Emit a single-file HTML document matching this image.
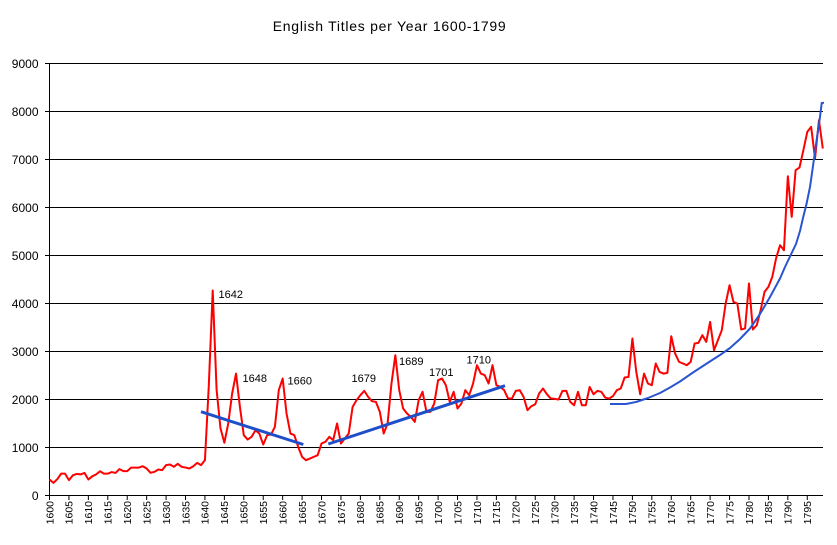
<!DOCTYPE html>
<html><head><meta charset="utf-8"><style>
html,body{margin:0;padding:0;background:#fff;}
svg{display:block;}
text{font-family:"Liberation Sans",Arial,sans-serif;fill:#000;}
</style></head><body>
<svg width="837" height="545" viewBox="0 0 837 545" xmlns="http://www.w3.org/2000/svg">
<rect width="837" height="545" fill="#fff"/>
<text x="272.7" y="31" font-size="14" textLength="233" lengthAdjust="spacing">English Titles per Year 1600-1799</text>
<g stroke="#000" stroke-width="1" fill="none">
<path d="M45 63.5H823M45 111.5H823M45 159.5H823M45 207.5H823M45 255.5H823M45 303.5H823M45 351.5H823M45 399.5H823M45 447.5H823M45 495.5H823"/>
<path d="M49.5 63V500"/>
<path d="M68.93 495V500M88.36 495V500M107.79 495V500M127.22 495V500M146.65 495V500M166.08 495V500M185.51 495V500M204.94 495V500M224.37 495V500M243.8 495V500M263.23 495V500M282.66 495V500M302.09 495V500M321.52 495V500M340.95 495V500M360.38 495V500M379.81 495V500M399.24 495V500M418.67 495V500M438.1 495V500M457.53 495V500M476.96 495V500M496.39 495V500M515.82 495V500M535.25 495V500M554.68 495V500M574.11 495V500M593.54 495V500M612.97 495V500M632.4 495V500M651.83 495V500M671.26 495V500M690.69 495V500M710.12 495V500M729.55 495V500M748.98 495V500M768.41 495V500M787.84 495V500M807.27 495V500"/>
</g>
<g font-size="12" text-anchor="end">
<text x="38.5" y="67.8">9000</text>
<text x="38.5" y="115.8">8000</text>
<text x="38.5" y="163.8">7000</text>
<text x="38.5" y="211.8">6000</text>
<text x="38.5" y="259.8">5000</text>
<text x="38.5" y="307.8">4000</text>
<text x="38.5" y="355.8">3000</text>
<text x="38.5" y="403.8">2000</text>
<text x="38.5" y="451.8">1000</text>
<text x="38.5" y="499.8">0</text>
</g>
<g font-size="10.5" text-anchor="end">
<text transform="translate(53.3,501) rotate(-90)">1600</text>
<text transform="translate(72.73,501) rotate(-90)">1605</text>
<text transform="translate(92.16,501) rotate(-90)">1610</text>
<text transform="translate(111.59,501) rotate(-90)">1615</text>
<text transform="translate(131.02,501) rotate(-90)">1620</text>
<text transform="translate(150.45,501) rotate(-90)">1625</text>
<text transform="translate(169.88,501) rotate(-90)">1630</text>
<text transform="translate(189.31,501) rotate(-90)">1635</text>
<text transform="translate(208.74,501) rotate(-90)">1640</text>
<text transform="translate(228.17,501) rotate(-90)">1645</text>
<text transform="translate(247.6,501) rotate(-90)">1650</text>
<text transform="translate(267.03,501) rotate(-90)">1655</text>
<text transform="translate(286.46,501) rotate(-90)">1660</text>
<text transform="translate(305.89,501) rotate(-90)">1665</text>
<text transform="translate(325.32,501) rotate(-90)">1670</text>
<text transform="translate(344.75,501) rotate(-90)">1675</text>
<text transform="translate(364.18,501) rotate(-90)">1680</text>
<text transform="translate(383.61,501) rotate(-90)">1685</text>
<text transform="translate(403.04,501) rotate(-90)">1690</text>
<text transform="translate(422.47,501) rotate(-90)">1695</text>
<text transform="translate(441.9,501) rotate(-90)">1700</text>
<text transform="translate(461.33,501) rotate(-90)">1705</text>
<text transform="translate(480.76,501) rotate(-90)">1710</text>
<text transform="translate(500.19,501) rotate(-90)">1715</text>
<text transform="translate(519.62,501) rotate(-90)">1720</text>
<text transform="translate(539.05,501) rotate(-90)">1725</text>
<text transform="translate(558.48,501) rotate(-90)">1730</text>
<text transform="translate(577.91,501) rotate(-90)">1735</text>
<text transform="translate(597.34,501) rotate(-90)">1740</text>
<text transform="translate(616.77,501) rotate(-90)">1745</text>
<text transform="translate(636.2,501) rotate(-90)">1750</text>
<text transform="translate(655.63,501) rotate(-90)">1755</text>
<text transform="translate(675.06,501) rotate(-90)">1760</text>
<text transform="translate(694.49,501) rotate(-90)">1765</text>
<text transform="translate(713.92,501) rotate(-90)">1770</text>
<text transform="translate(733.35,501) rotate(-90)">1775</text>
<text transform="translate(752.78,501) rotate(-90)">1780</text>
<text transform="translate(772.21,501) rotate(-90)">1785</text>
<text transform="translate(791.64,501) rotate(-90)">1790</text>
<text transform="translate(811.07,501) rotate(-90)">1795</text>
</g>
<g transform="translate(49.5,495.5) scale(3.886,-0.048)">
<polyline fill="none" stroke="#ff0000" stroke-width="2" stroke-linejoin="round" vector-effect="non-scaling-stroke" points="0,333 1,263 2,340 3,455 4,455 5,320 6,420 7,450 8,440 9,470 10,333 11,400 12,440 13,505 14,455 15,455 16,488 17,470 18,550 19,508 20,508 21,582 22,582 23,582 24,610 25,562 26,472 27,493 28,542 29,528 30,632 31,646 32,598 33,660 34,598 35,582 36,562 37,610 38,680 39,632 40,736 41,2300 42,4270 43,2200 44,1400 45,1100 46,1500 47,2125 48,2540 49,1846 50,1256 51,1166 52,1222 53,1360 54,1291 55,1062 56,1256 57,1270 58,1430 59,2194 60,2437 61,1708 62,1291 63,1256 64,1013 65,805 66,735 67,770 68,805 69,840 70,1083 71,1118 72,1222 73,1153 74,1500 75,1083 76,1187 77,1291 78,1846 79,1985 80,2090 81,2180 82,2055 83,1965 84,1950 85,1743 86,1291 87,1500 88,2333 89,2923 90,2194 91,1812 92,1708 93,1638 94,1535 95,1985 96,2160 97,1743 98,1743 99,1916 100,2402 101,2437 102,2298 103,1950 104,2160 105,1812 106,1916 107,2194 108,2090 109,2333 110,2715 111,2540 112,2507 113,2333 114,2715 115,2298 116,2264 117,2194 118,2020 119,2020 120,2180 121,2194 122,2055 123,1777 124,1860 125,1902 126,2125 127,2229 128,2110 129,2020 130,2013 131,2000 132,2180 133,2180 134,1950 135,1880 136,2160 137,1880 138,1880 139,2262 140,2110 141,2180 142,2160 143,2040 144,2020 145,2070 146,2194 147,2229 148,2458 149,2470 150,3270 151,2575 152,2110 153,2540 154,2333 155,2298 156,2750 157,2575 158,2540 159,2555 160,3318 161,2958 162,2784 163,2750 164,2715 165,2784 166,3166 167,3180 168,3340 169,3200 170,3617 171,3027 172,3235 173,3443 174,4000 175,4381 176,4034 177,4000 178,3458 179,3480 180,4416 181,3458 182,3548 183,3860 184,4242 185,4347 186,4555 187,4950 188,5215 189,5110 190,6652 191,5805 192,6777 193,6833 194,7194 195,7575 196,7680 197,7020 198,7819 199,7230"/>
</g>
<g fill="none" stroke="#1f4fc8" stroke-width="3" stroke-linecap="butt">
<line x1="201" y1="411.7" x2="303.3" y2="444.5"/>
<line x1="328.3" y1="444" x2="505" y2="385.7"/>
</g>
<polyline fill="none" stroke="#2a55d0" stroke-width="2" stroke-linejoin="round" points="610,404 626,404 636,402 648,398 660,393 670,387.5 680,381.5 693,372.5 706,364 720,355 730,348 740,339 750,328.5 760,314 770,297 780,278.5 785,267 790,256.5 796,244 800,231 803,218 806.5,204 810,187 813,166 816.5,141 820,117 821.7,103 824,102.7"/>
<g font-size="11">
<text x="218.5" y="298">1642</text>
<text x="242.5" y="382">1648</text>
<text x="287.5" y="384.5">1660</text>
<text x="351.5" y="382">1679</text>
<text x="399" y="365">1689</text>
<text x="429" y="376">1701</text>
<text x="466.5" y="363.5">1710</text>
</g>
</svg>
</body></html>
